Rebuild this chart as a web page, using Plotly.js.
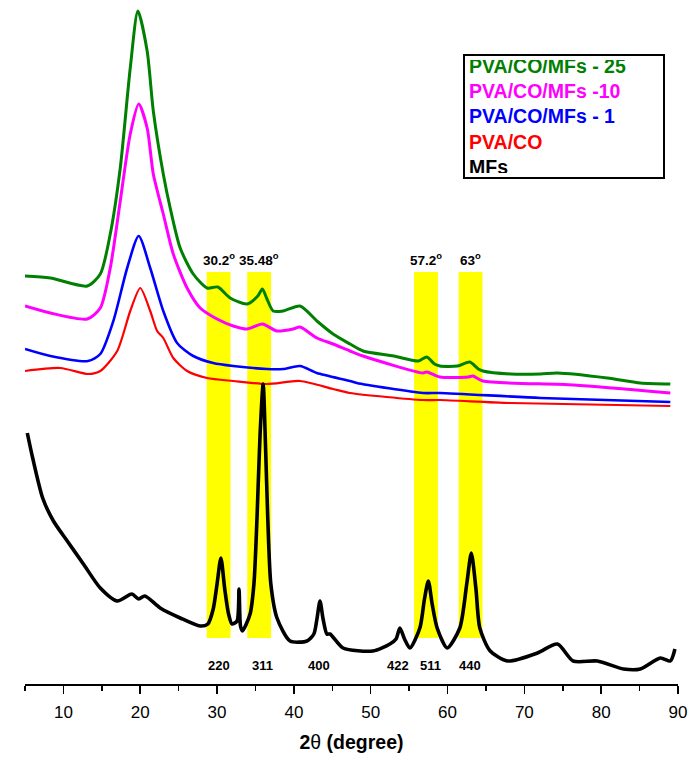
<!DOCTYPE html>
<html>
<head>
<meta charset="utf-8">
<script src="https://cdn.plot.ly/plotly-3.0.1.min.js"></script>
<style>html,body{margin:0;padding:0;background:#fff;}#chart{width:694px;height:767px;}</style>
</head>
<body>
<div id="chart"></div>
<script>
// ---- data (2θ in degrees, intensity in arbitrary units, stacked offsets as shown) ----
const seriesNames = ["PVA/CO/MFs - 25", "PVA/CO/MFs -10", "PVA/CO/MFs - 1", "PVA/CO", "MFs"];

const xGreen = [5, 8.3, 13.1, 14.8, 16.1, 17.4, 18.7, 19.7, 20.9, 21.7, 23.0, 23.9, 25.2, 26.9, 28.7, 30.1, 31.7, 33.9, 35.3, 35.9, 36.5, 37.3, 38.6, 40.8, 43.0, 45.1, 47.3, 49.0, 53.0, 56.2, 57.3, 58.3, 59.0, 61.3, 62.9, 64.0, 64.6, 68.2, 72.1, 74.3, 80.8, 85.1, 89.0];
const yGreen = [408, 406, 398, 410, 450, 516, 616, 673, 633, 573, 510, 476, 436, 410, 396, 397, 386, 380, 388, 395, 385, 373, 373, 378, 363, 350, 340, 333, 328, 323, 327, 320, 318, 318, 322, 315, 313, 310, 310, 311, 306, 301, 300];

const xMagenta = [5, 8.3, 13.1, 14.8, 16.1, 17.4, 18.7, 19.8, 20.9, 21.7, 23.0, 24.3, 26.1, 27.8, 30.0, 32.1, 33.9, 35.9, 37.8, 39.9, 40.8, 43.0, 45.1, 47.3, 49.0, 56.8, 57.3, 59.0, 62.7, 63.3, 64.6, 76.4, 89.0];
const yMagenta = [378, 371, 365, 376, 416, 483, 550, 580, 556, 510, 470, 430, 396, 376, 365, 358, 355, 360, 353, 355, 357, 346, 340, 333, 328, 311, 312, 307, 307, 308, 303, 299, 291];

const xBlue = [5, 8.3, 13.2, 14.8, 16.5, 18.3, 19.8, 21.3, 23.0, 24.8, 26.9, 29.5, 32.1, 36.5, 38.6, 40.8, 43.0, 47.3, 48.2, 56.8, 59.0, 72.1, 89.0];
const yBlue = [335, 328, 323, 330, 363, 416, 448, 416, 373, 341, 328, 321, 318, 315, 315, 318, 311, 303, 301, 291, 291, 286, 282];

const xRed = [5, 9.6, 13.2, 14.8, 17.0, 18.7, 20.0, 21.3, 22.2, 23.0, 24.3, 26.1, 28.7, 32.1, 36.5, 40.8, 45.1, 47.3, 56.8, 59.0, 68.2, 89.0];
const yRed = [313, 316, 310, 313, 333, 373, 396, 373, 353, 346, 326, 313, 306, 303, 300, 303, 295, 291, 284, 284, 281, 278];

const xBlack = [5.3, 6.0, 7.3, 8.7, 10.5, 12.6, 14.8, 17.0, 18.9, 19.8, 20.6, 22.6, 25.2, 27.8, 28.8, 29.5, 30.0, 30.5, 31.0, 31.5, 31.95, 32.6, 32.86, 33.05, 33.3, 34.3, 34.8, 35.2, 35.6, 36.0, 36.3, 36.6, 37.0, 37.8, 39.5, 41.7, 42.6, 43.0, 43.4, 43.8, 44.3, 44.7, 46.4, 50.3, 52.5, 53.3, 53.8, 54.4, 55.1, 56.4, 57.0, 57.5, 58.0, 58.65, 59.95, 61.6, 62.5, 63.1, 63.7, 64.2, 65.55, 67.8, 71.7, 74.3, 76.35, 79.5, 82.9, 85.1, 87.7, 89.0, 89.6];
const yBlack = [251, 226, 186, 163, 143, 120, 96, 83, 90, 85, 88, 76, 66, 58, 60, 75, 100, 126, 95, 70, 60, 63, 95, 58, 53, 70, 100, 166, 250, 300, 240, 166, 100, 66, 43, 43, 50, 65, 83, 65, 50, 50, 36, 33, 40, 45, 56, 45, 36, 56, 85, 103, 80, 56, 36, 56, 100, 131, 95, 56, 33, 23, 31, 40, 23, 23, 15, 15, 26, 23, 35];

const bandCenters = [30.2, 35.48, 57.2, 63];
const bandLabels = ["30.2<sup>o</sup>", "35.48<sup>o</sup>", "57.2<sup>o</sup>", "63<sup>o</sup>"];
const millerLabels = ["220", "311", "400", "422", "511", "440"];
const millerPositions = [30.3, 35.9, 43.3, 53.6, 57.8, 62.9];
const xTicks = [10, 20, 30, 40, 50, 60, 70, 80, 90];

// ---- styles ----
const colors = ["#008000", "#ff00ff", "#0000ff", "#ff0000", "#000000"];
const widths = [3.0, 3.0, 2.6, 2.2, 3.6];
const xs = [xGreen, xMagenta, xBlue, xRed, xBlack];
const ys = [yGreen, yMagenta, yBlue, yRed, yBlack];

const traces = xs.map((x, i) => ({
  x: x, y: ys[i], type: 'scatter', mode: 'lines', name: seriesNames[i],
  line: {color: colors[i], width: widths[i], shape: 'spline', smoothing: 0.7}, showlegend: false
}));

const bandHalf = 1.55;
const shapes = bandCenters.map(c => ({
  type: 'rect', xref: 'x', yref: 'y', x0: c - bandHalf, x1: c + bandHalf, y0: 46, y1: 412,
  fillcolor: '#ffff00', line: {width: 0}, layer: 'below'
}));

const font = "Liberation Sans, Arial, sans-serif";
const annotations = [];
bandCenters.forEach((c, i) => annotations.push({
  x: c, y: 425, xref: 'x', yref: 'y', text: '<b>' + bandLabels[i] + '</b>', showarrow: false,
  font: {family: font, size: 13.5, color: '#000'}, xanchor: 'center', yanchor: 'middle'
}));
millerLabels.forEach((t, i) => annotations.push({
  x: millerPositions[i], y: 19, xref: 'x', yref: 'y', text: '<b>' + t + '</b>', showarrow: false,
  font: {family: font, size: 13, color: '#000'}, xanchor: 'center', yanchor: 'middle'
}));
// legend box as annotation (colored text only, as in the original)
const L = 25, R = 16, T = 5, B = 83, W = 694, H = 767;
const legendText = seriesNames.map((n, i) => '<span style="color:' + colors[i] + '"><b>' + n + '</b></span>').join('<br>');
annotations.push({
  x: (463 - L) / (W - L - R), y: 1 - (54 - T) / (H - T - B), xref: 'paper', yref: 'paper',
  text: legendText, showarrow: false,
  xanchor: 'left', yanchor: 'top', align: 'left',
  font: {family: font, size: 19.5}, bordercolor: '#000', borderwidth: 2, borderpad: 4,
  bgcolor: '#fff', width: 190, height: 113
});

const layout = {
  width: W, height: H,
  margin: {l: L, r: R, t: T, b: B},
  paper_bgcolor: '#fff', plot_bgcolor: '#fff',
  xaxis: {
    range: [5, 90], tickvals: xTicks, ticks: 'outside', ticklen: 8, tickwidth: 1.5, tickcolor: '#000',
    showline: true, linecolor: '#000', linewidth: 1.5, showgrid: false, zeroline: false,
    minor: {dtick: 5, tick0: 5, ticks: 'outside', ticklen: 5, tickwidth: 1.5, tickcolor: '#000'},
    tickfont: {family: font, size: 17, color: '#000'}, ticklabelstandoff: 4,
    title: {text: '<b>2</b>θ <b>(degree)</b>', font: {family: font, size: 19.5, color: '#000'}, standoff: 14}
  },
  yaxis: {range: [0, 679], visible: false, fixedrange: true},
  shapes: shapes,
  annotations: annotations,
  showlegend: false
};

Plotly.newPlot('chart', traces, layout, {displayModeBar: false, staticPlot: true});
</script>
</body>
</html>
